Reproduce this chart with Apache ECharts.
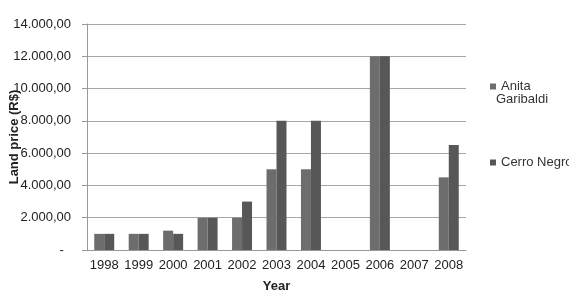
<!DOCTYPE html>
<html>
<head>
    <meta charset="UTF-8">
    <title>Land price</title>
    <style>
        body { margin: 0; background: #fff; }
    </style>
</head>
<body>
    <div id="main" style="width: 569px;height:302px;"></div>
    <script src="https://cdn.jsdelivr.net/npm/echarts@6/dist/echarts.min.js"></script>
    <script type="text/javascript">
        // dados
        var years = ['1998', '1999', '2000', '2001', '2002', '2003', '2004', '2005', '2006', '2007', '2008'];
        var anitaGaribaldi = [1000, 1000, 1200, 2000, 2000, 5000, 5000, 0, 12000, 0, 4500];
        var cerroNegro = [1000, 1000, 1000, 2000, 3000, 8000, 8000, 0, 12000, 0, 6500];

        var fonte = 'Liberation Sans, Arial, sans-serif';

        // 14.000,00 style numbers, zero shown as "-"
        function fmt(v) {
            if (v === 0) return '-  ';
            var s = String(v).replace(/\B(?=(\d{3})+(?!\d))/g, '.');
            return s + ',00';
        }

        var myChart = echarts.init(document.getElementById('main'));
        myChart.setOption({
            animation: false,
            textStyle: { fontFamily: fonte },
            grid: { left: 87, right: 103, top: 24, bottom: 52, outerBoundsMode: 'none', containLabel: false },
            legend: [{
                data: ['Anita Garibaldi'],
                left: 485, top: 75,
                itemWidth: 6, itemHeight: 6, itemGap: 4,
                icon: 'rect',
                formatter: function () { return 'Anita'; },
                textStyle: { fontFamily: fonte, fontSize: 13, color: '#333' }
            }, {
                data: ['Cerro Negro'],
                left: 485, top: 151,
                itemWidth: 6, itemHeight: 6,
                icon: 'rect',
                textStyle: { fontFamily: fonte, fontSize: 13, color: '#333' }
            }],
            // second line of the first legend entry
            graphic: [{
                type: 'text',
                left: 496, top: 93,
                style: { text: 'Garibaldi', font: '13px ' + fonte, fill: '#333' }
            }],
            xAxis: {
                type: 'category',
                data: years,
                name: 'Year',
                nameLocation: 'middle',
                nameGap: 30,
                nameMoveOverlap: false,
                nameTextStyle: { fontFamily: fonte, fontWeight: 'bold', fontSize: 13, color: '#222' },
                axisLine: { lineStyle: { color: '#999', width: 1 } },
                axisTick: { show: false },
                axisLabel: { interval: 0, color: '#222', fontSize: 13, margin: 9, fontFamily: fonte }
            },
            yAxis: {
                type: 'value',
                min: 0, max: 14000, interval: 2000,
                name: 'Land price (R$)',
                nameLocation: 'middle',
                nameGap: 66,
                nameMoveOverlap: false,
                nameTextStyle: { fontFamily: fonte, fontWeight: 'bold', fontSize: 13, color: '#222' },
                axisLine: { show: true, lineStyle: { color: '#999', width: 1 } },
                axisTick: { show: true, length: 5, lineStyle: { color: '#999' } },
                splitLine: { lineStyle: { color: '#a6a6a6', width: 1 } },
                axisLabel: { color: '#222', fontSize: 13, margin: 16, fontFamily: fonte, formatter: fmt }
            },
            series: [{
                name: 'Anita Garibaldi',
                type: 'bar',
                data: anitaGaribaldi,
                barGap: '0%',
                barCategoryGap: '42%',
                itemStyle: { color: '#6d6d6d' }
            }, {
                name: 'Cerro Negro',
                type: 'bar',
                data: cerroNegro,
                itemStyle: { color: '#575757' }
            }]
        });
    </script>
</body>
</html>
